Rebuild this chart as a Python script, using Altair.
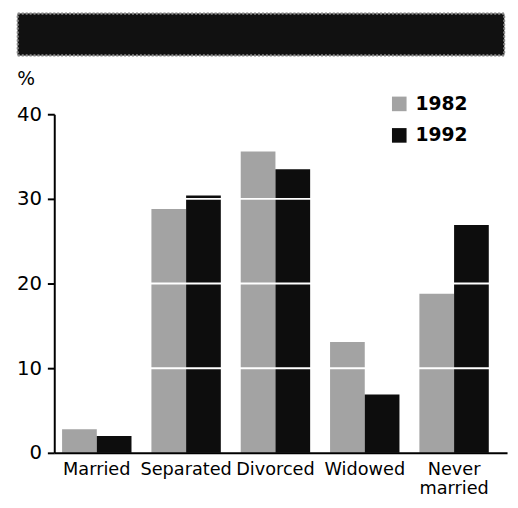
import altair as alt
import pandas as pd

categories = ["Married", "Separated", "Divorced", "Widowed", "Never married"]
years = ["1982", "1992"]
values_1982 = [2.8, 28.8, 35.6, 13.1, 18.8]
values_1992 = [2.0, 30.4, 33.5, 6.9, 26.9]
grid_values = [10, 20, 30]
y_ticks = [0, 10, 20, 30, 40]
colors = ["#a3a3a3", "#0d0d0d"]

rows = []
for c, a, b in zip(categories, values_1982, values_1992):
    rows.append({"status": c, "year": years[0], "pct": a})
    rows.append({"status": c, "year": years[1], "pct": b})
df = pd.DataFrame(rows)
grid_df = pd.DataFrame({"v": grid_values})

FONT = "DejaVu Sans"
W, H = 460, 344

bars = alt.Chart(df).mark_bar().encode(
    x=alt.X("status:N", sort=categories, title=None,
            scale=alt.Scale(paddingInner=0.223, paddingOuter=0.146, align=0.3),
            axis=alt.Axis(labelAngle=0, labelFont=FONT, labelFontSize=18, labelColor="black",
                          labelPadding=8, ticks=False, domainColor="black", domainWidth=2,
                          labelOverlap=False, labelLineHeight=19, zindex=1,
                          labelExpr="datum.label == 'Never married' ? ['Never', 'married'] : datum.label")),
    xOffset=alt.XOffset("year:N", scale=alt.Scale(paddingInner=0, paddingOuter=0)),
    y=alt.Y("pct:Q", scale=alt.Scale(domain=[0, 40], nice=False),
            axis=alt.Axis(values=y_ticks, title="%", titleAngle=0, titleX=-29, titleY=-36,
                          titleAlign="center", titleBaseline="middle", titleFont=FONT,
                          titleFontSize=19, titleFontWeight="normal", titleColor="black",
                          labelFont=FONT, labelFontSize=20, labelColor="black", labelPadding=6,
                          tickSize=7, tickWidth=2, tickColor="black", domainColor="black",
                          domainWidth=2, grid=False, zindex=1)),
    color=alt.Color("year:N", scale=alt.Scale(domain=years, range=colors),
                    legend=alt.Legend(orient="none", legendX=341, legendY=-20, title=None,
                                      symbolType="square", symbolSize=220, symbolStrokeWidth=0,
                                      symbolOpacity=1, labelFont=FONT, labelFontSize=19,
                                      labelFontWeight="bold", labelColor="black", rowPadding=12,
                                      labelOffset=7, padding=0)),
)

grid = alt.Chart(grid_df).mark_rule(color="white", strokeWidth=2).encode(
    y="v:Q", x=alt.value(2), x2=alt.value(W)
)

header = alt.Chart(grid_df).mark_rect(color="#111111", stroke="#8a8a8a", strokeWidth=2,
                                      strokeDash=[2, 2]).encode(
    x=alt.value(-37), x2=alt.value(457), y=alt.value(-102), y2=alt.value(-60)
)

chart = alt.layer(bars, grid, header).properties(
    width=W, height=H,
    autosize=alt.AutoSizeParams(type="none"),
    padding={"left": 47, "top": 104, "right": 3, "bottom": 44},
    background="white",
).configure_view(stroke=None)

chart.save("out.html", embed_options={"renderer": "svg", "actions": False})
